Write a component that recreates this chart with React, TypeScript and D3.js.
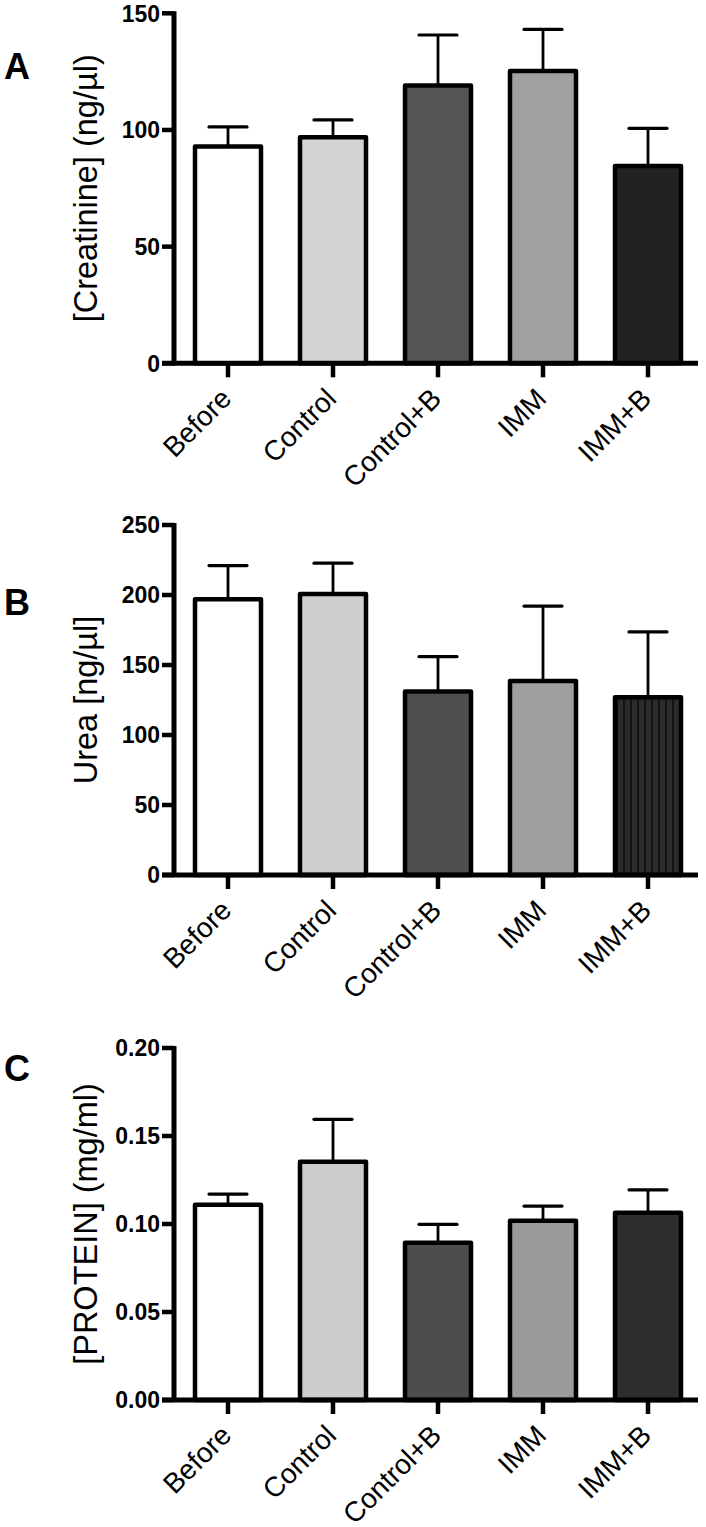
import React from "react";
import * as d3 from "d3";

const categories = ["Before", "Control", "Control+B", "IMM", "IMM+B"];

const creatinineMean = [92.9, 96.9, 119.1, 125.3, 84.6];
const creatinineSem = [8.4, 7.4, 21.6, 17.8, 16.1];
const creatinineTicks = [0, 50, 100, 150];
const creatinineFill = ["#ffffff", "#d3d3d3", "#555555", "#a0a0a0", "#222222"];

const ureaMean = [197, 200.7, 131, 138.6, 127];
const ureaSem = [24, 22, 25, 53.5, 46.6];
const ureaTicks = [0, 50, 100, 150, 200, 250];
const ureaFill = ["#ffffff", "#cfcfcf", "#4f4f4f", "#9e9e9e", "url(#stripes)"];

const proteinMean = [0.111, 0.1353, 0.0893, 0.1019, 0.1064];
const proteinSem = [0.006, 0.0242, 0.0105, 0.0083, 0.013];
const proteinTicks = [0, 0.05, 0.1, 0.15, 0.2];
const proteinFill = ["#ffffff", "#cccccc", "#4d4d4d", "#9a9a9a", "#2e2e2e"];

const FONT = "'Liberation Sans', Arial, Helvetica, sans-serif";

type PanelProps = {
  letter: string;
  letterY: number;
  title: string;
  means: number[];
  sems: number[];
  ticks: number[];
  fills: string[];
  yMax: number;
  yTop: number;
  yBottom: number;
  fmt: (v: number) => string;
};

const AXIS_X = 174;
const AXIS_RIGHT = 698;
const BAR_W = 66;

function Panel(p: PanelProps) {
  const y = d3.scaleLinear().domain([0, p.yMax]).range([p.yBottom, p.yTop]);
  const x = d3.scalePoint<string>().domain(categories).range([228, 648]);
  const titleX = 97;
  const titleY = (p.yTop + p.yBottom) / 2;
  return (
    <g>
      <text x={4} y={p.letterY} fontFamily={FONT} fontWeight="bold" fontSize={36} fill="#000">
        {p.letter}
      </text>
      <text
        transform={`translate(${titleX},${titleY}) rotate(-90)`}
        textAnchor="middle"
        fontFamily={FONT}
        fontSize={32.5}
        fill="#000"
      >
        {p.title}
      </text>
      {categories.map((c, i) => {
        const cx = x(c) as number;
        const top = y(p.means[i]);
        const capY = y(p.means[i] + p.sems[i]);
        return (
          <g key={c}>
            <line x1={cx} x2={cx} y1={top} y2={capY} stroke="#000" strokeWidth={2.8} />
            <line x1={cx - 19} x2={cx + 19} y1={capY} y2={capY} stroke="#000" strokeWidth={3.2} strokeLinecap="round" />
            <rect
              x={cx - BAR_W / 2}
              y={top}
              width={BAR_W}
              height={p.yBottom - top}
              fill={p.fills[i]}
              stroke="#000"
              strokeWidth={4.5}
              strokeLinejoin="round"
            />
          </g>
        );
      })}
      {/* y axis */}
      <line x1={AXIS_X} x2={AXIS_X} y1={p.yTop - 2} y2={p.yBottom + 2} stroke="#000" strokeWidth={5} />
      {p.ticks.map((t) => (
        <g key={t}>
          <line x1={AXIS_X - 12} x2={AXIS_X} y1={y(t)} y2={y(t)} stroke="#000" strokeWidth={4.5} />
          <text
            x={AXIS_X - 14}
            y={y(t)}
            dy="0.36em"
            textAnchor="end"
            fontFamily={FONT}
            fontWeight="bold"
            fontSize={23}
            fill="#000"
          >
            {p.fmt(t)}
          </text>
        </g>
      ))}
      {/* x axis */}
      <line x1={AXIS_X - 12} x2={AXIS_RIGHT} y1={p.yBottom} y2={p.yBottom} stroke="#000" strokeWidth={5} />
      {categories.map((c) => {
        const cx = x(c) as number;
        return (
          <g key={"xt" + c}>
            <line x1={cx} x2={cx} y1={p.yBottom} y2={p.yBottom + 14} stroke="#000" strokeWidth={4.5} />
            <text
              transform={`translate(${cx + 5},${p.yBottom + 37}) rotate(-45)`}
              textAnchor="end"
              fontFamily={FONT}
              fontSize={28}
              fill="#000"
            >
              {c}
            </text>
          </g>
        );
      })}
    </g>
  );
}

export default function App() {
  return (
    <svg
      width={706}
      height={1527}
      viewBox="0 0 706 1527"
      style={{ position: "absolute", left: 0, top: 0, background: "#fff" }}
    >
      <defs>
        <pattern id="stripes" patternUnits="userSpaceOnUse" width={7} height={10}>
          <rect x={0} y={0} width={7} height={10} fill="#2b2b2b" />
          <rect x={0} y={0} width={2} height={10} fill="#131313" />
        </pattern>
      </defs>
      <rect x={0} y={0} width={706} height={1527} fill="#fff" />
      <Panel
        letter="A"
        letterY={79}
        title="[Creatinine] (ng/µl)"
        means={creatinineMean}
        sems={creatinineSem}
        ticks={creatinineTicks}
        fills={creatinineFill}
        yMax={150}
        yTop={13.3}
        yBottom={363.3}
        fmt={(v) => d3.format("d")(v)}
      />
      <Panel
        letter="B"
        letterY={615}
        title="Urea [ng/µl]"
        means={ureaMean}
        sems={ureaSem}
        ticks={ureaTicks}
        fills={ureaFill}
        yMax={250}
        yTop={525}
        yBottom={875}
        fmt={(v) => d3.format("d")(v)}
      />
      <Panel
        letter="C"
        letterY={1081}
        title="[PROTEIN] (mg/ml)"
        means={proteinMean}
        sems={proteinSem}
        ticks={proteinTicks}
        fills={proteinFill}
        yMax={0.2}
        yTop={1048}
        yBottom={1400}
        fmt={(v) => d3.format(".2f")(v)}
      />
    </svg>
  );
}
